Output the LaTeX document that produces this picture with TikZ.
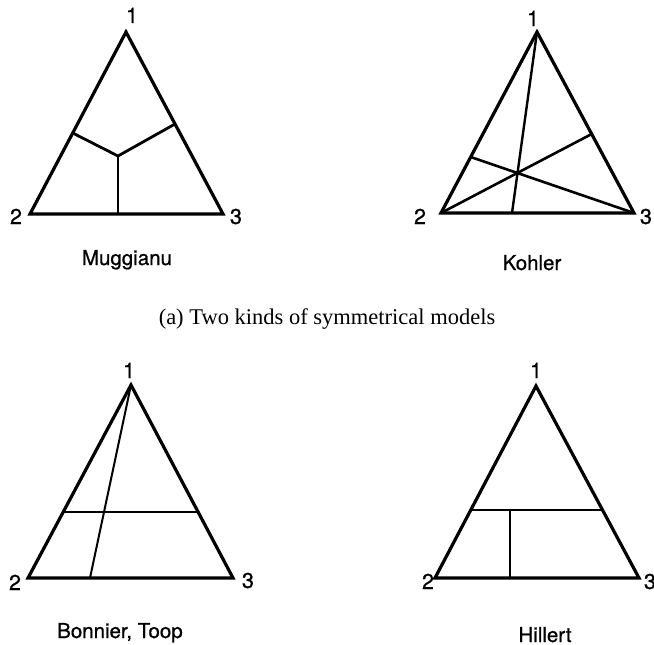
\documentclass[tikz,border=0pt]{standalone}
\usepackage{fontspec}
\setmainfont{Liberation Serif}
\newfontfamily\lblfont[FakeBold=0.8]{TeX Gyre Heros}
\tikzset{
  tri/.style={line width=3.2pt, line join=miter},
  thick inner/.style={line width=2.8pt},
  thin inner/.style={line width=2pt},
  vlabel/.style={font=\lblfont\fontsize{21.5}{21}\selectfont, anchor=base, inner sep=0pt},
  name label/.style={font=\lblfont\fontsize{20.5}{21}\selectfont, anchor=base, inner sep=0pt},
  caption/.style={font=\fontsize{22.5}{24}\selectfont, anchor=base, inner sep=0pt}
}
\begin{document}
\begin{tikzpicture}[x=1pt,y=-1pt]
\useasboundingbox (0,0) rectangle (654,645);
\clip (0,0) rectangle (654,645);
% ---------- Muggianu ----------
\coordinate (m1) at (126,32);
\coordinate (m2) at (30,214);
\coordinate (m3) at (223,214);
\coordinate (mL) at (72.7,133);
\coordinate (mR) at (175,124);
\coordinate (mC) at (118,156);
\coordinate (mB) at (118,214);
\draw[tri] (m1) -- (m2) -- (m3) -- cycle;
\draw[thick inner] (mL) -- (mC) -- (mR);
\draw[thin inner] (mC) -- (mB);
\node[vlabel] (ml1) at (132,23) {1};
\node[vlabel] (ml2) at (16,224) {2};
\node[vlabel] (ml3) at (236,224) {3};
\node[name label] (mname) at (127,265) {Muggianu};
% ---------- Kohler ----------
\coordinate (k1) at (537,32);
\coordinate (k2) at (441,213);
\coordinate (k3) at (634,213);
\coordinate (kL) at (470.7,157);
\coordinate (kR) at (591.7,134);
\coordinate (kB) at (512,213);
\draw[tri] (k1) -- (k2) -- (k3) -- cycle;
\draw[thin inner, line width=2.4pt] (k1) -- (kB);
\draw[thin inner, line width=2.6pt] (k2) -- (kR);
\draw[thin inner, line width=2.6pt] (k3) -- (kL);
\node[vlabel] (kl1) at (533,26) {1};
\node[vlabel] (kl2) at (420,224) {2};
\node[vlabel] (kl3) at (646,224) {3};
\node[name label] (kname) at (532,270) {Kohler};
% ---------- caption ----------
\node[caption] (cap) at (327,324) {(a) Two kinds of symmetrical models};
% ---------- Bonnier, Toop ----------
\coordinate (b1) at (131,385);
\coordinate (b2) at (28,578);
\coordinate (b3) at (233,578);
\coordinate (bL) at (63.2,512);
\coordinate (bR) at (198,512);
\coordinate (bB) at (90,578);
\draw[tri] (b1) -- (b2) -- (b3) -- cycle;
\draw[thin inner, line width=2.6pt] (bL) -- (bR);
\draw[thin inner] (b1) -- (bB);
\node[vlabel] (bl1) at (129,378) {1};
\node[vlabel] (bl2) at (15,590) {2};
\node[vlabel] (bl3) at (248,588) {3};
\node[name label, anchor=base west] (bname) at (57,638) {Bonnier, Toop};
% ---------- Hillert ----------
\coordinate (h1) at (536,386);
\coordinate (h2) at (435,578);
\coordinate (h3) at (639,578);
\coordinate (hL) at (470.8,510);
\coordinate (hR) at (602.5,510);
\coordinate (hT) at (510,510);
\coordinate (hB) at (510,578);
\draw[tri] (h1) -- (h2) -- (h3) -- cycle;
\draw[thin inner, line width=2.4pt] (hL) -- (hR);
\draw[thin inner] (hT) -- (hB);
\node[vlabel] (hl1) at (536,378) {1};
\node[vlabel] (hl2) at (428,589) {2};
\node[vlabel] (hl3) at (650,589) {3};
\node[name label] (hname) at (545,642) {Hillert};
\end{tikzpicture}
\end{document}
